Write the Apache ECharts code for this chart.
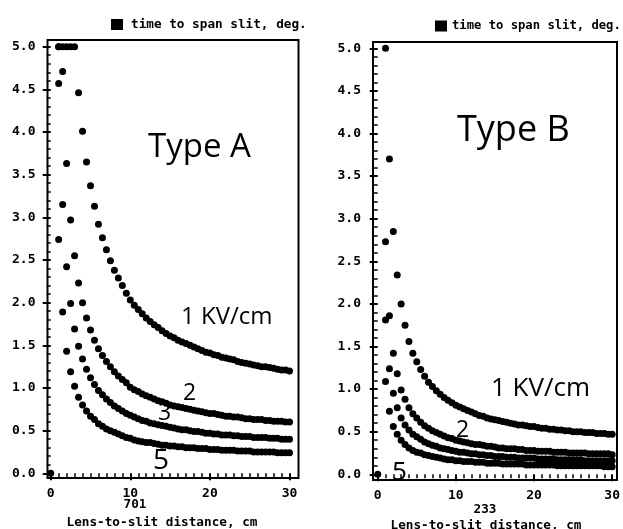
<!DOCTYPE html>
<html>
<head>
<meta charset="utf-8">
<script src="https://cdn.jsdelivr.net/npm/echarts@6/dist/echarts.min.js"></script>
<style>
  html, body { margin: 0; padding: 0; background: #fff; }
  #chart { width: 623px; height: 529px; }
</style>
</head>
<body>
<div id="chart"></div>
<script>
// lens-to-slit distance, cm (same for every curve)
const xDist = [1,1.5,2,2.5,3,3.5,4,4.5,5,5.5,6,6.5,7,7.5,8,8.5,9,9.5,10,
  10.5,11,11.5,12,12.5,13,13.5,14,14.5,15,15.5,16,16.5,17,17.5,18,18.5,19,19.5,20,
  20.5,21,21.5,22,22.5,23,23.5,24,24.5,25,25.5,26,26.5,27,27.5,28,28.5,29,29.5,30];
const origin = [0, 0];

// Type A, time to span slit (deg.), values above 5 sit on the 5.0 edge
const typeA_1kv = [5.0,5.0,5.0,5.0,5.0,4.46,4.01,3.65,3.37,3.13,2.92,2.76,2.62,2.49,2.38,2.29,2.20,2.11,2.03,
  1.97,1.92,1.87,1.82,1.78,1.74,1.71,1.67,1.64,1.61,1.59,1.56,1.54,1.52,1.50,1.48,1.46,1.44,1.42,1.41,
  1.39,1.38,1.36,1.35,1.34,1.33,1.31,1.30,1.29,1.28,1.27,1.26,1.25,1.25,1.24,1.23,1.22,1.21,1.21,1.20];
const typeA_2kv = [5.0,4.71,3.63,2.97,2.55,2.23,2.00,1.82,1.68,1.56,1.46,1.38,1.31,1.25,1.19,1.14,1.10,1.06,1.01,
  0.98,0.96,0.93,0.91,0.89,0.87,0.85,0.84,0.82,0.80,0.79,0.78,0.77,0.76,0.75,0.74,0.73,0.72,0.71,0.70,
  0.70,0.69,0.68,0.67,0.67,0.66,0.66,0.65,0.64,0.64,0.63,0.63,0.63,0.62,0.62,0.61,0.61,0.61,0.60,0.60];
const typeA_3kv = [4.57,3.15,2.42,1.99,1.69,1.49,1.34,1.22,1.12,1.04,0.97,0.92,0.87,0.83,0.79,0.76,0.73,0.70,0.68,
  0.66,0.64,0.62,0.61,0.59,0.58,0.57,0.56,0.55,0.54,0.53,0.52,0.51,0.51,0.50,0.49,0.49,0.48,0.47,0.47,
  0.46,0.46,0.45,0.45,0.45,0.44,0.44,0.43,0.43,0.43,0.42,0.42,0.42,0.42,0.41,0.41,0.41,0.40,0.40,0.40];
const typeA_5kv = [2.74,1.89,1.43,1.19,1.02,0.89,0.80,0.73,0.67,0.63,0.58,0.55,0.52,0.50,0.48,0.46,0.44,0.42,0.41,
  0.39,0.38,0.37,0.36,0.36,0.35,0.34,0.33,0.33,0.32,0.32,0.31,0.31,0.30,0.30,0.30,0.29,0.29,0.29,0.28,
  0.28,0.28,0.27,0.27,0.27,0.27,0.26,0.26,0.26,0.26,0.25,0.25,0.25,0.25,0.25,0.25,0.24,0.24,0.24,0.24];

// Type B
const typeB_1kv = [5.0,3.70,2.85,2.34,2.00,1.75,1.56,1.42,1.32,1.23,1.15,1.08,1.03,0.98,0.94,0.90,0.87,0.84,0.81,
  0.79,0.77,0.75,0.73,0.71,0.69,0.68,0.66,0.65,0.64,0.63,0.62,0.61,0.60,0.59,0.58,0.58,0.57,0.56,0.56,
  0.55,0.54,0.54,0.53,0.53,0.52,0.52,0.51,0.51,0.50,0.50,0.50,0.49,0.49,0.49,0.48,0.48,0.48,0.47,0.47];
const typeB_2kv = [2.73,1.86,1.42,1.18,0.99,0.88,0.78,0.71,0.66,0.61,0.57,0.54,0.51,0.49,0.47,0.45,0.43,0.42,0.40,
  0.39,0.38,0.37,0.36,0.35,0.35,0.34,0.33,0.33,0.32,0.31,0.31,0.30,0.30,0.30,0.29,0.29,0.28,0.28,0.28,
  0.27,0.27,0.27,0.27,0.26,0.26,0.26,0.26,0.25,0.25,0.25,0.25,0.25,0.24,0.24,0.24,0.24,0.24,0.24,0.23];
const typeB_3kv = [1.81,1.24,0.95,0.78,0.66,0.58,0.52,0.47,0.44,0.41,0.38,0.36,0.34,0.33,0.31,0.30,0.29,0.28,0.27,
  0.26,0.26,0.25,0.24,0.24,0.23,0.23,0.22,0.22,0.21,0.21,0.21,0.20,0.20,0.20,0.19,0.19,0.19,0.19,0.19,
  0.18,0.18,0.18,0.18,0.18,0.17,0.17,0.17,0.17,0.17,0.17,0.17,0.16,0.16,0.16,0.16,0.16,0.16,0.16,0.16];
const typeB_5kv = [1.09,0.74,0.56,0.47,0.40,0.35,0.31,0.28,0.26,0.25,0.23,0.22,0.21,0.20,0.19,0.18,0.17,0.17,0.16,
  0.16,0.15,0.15,0.15,0.14,0.14,0.14,0.13,0.13,0.13,0.13,0.12,0.12,0.12,0.12,0.12,0.12,0.11,0.11,0.11,
  0.11,0.11,0.11,0.11,0.11,0.10,0.10,0.10,0.10,0.10,0.10,0.10,0.10,0.10,0.10,0.10,0.10,0.09,0.09,0.09];

// axis ranges / steps
const xRange = [0, 30];
const xStep = 10;
const yRange = [0, 5];
const yStep = 0.5;

const seriesName = 'time to span slit, deg.';
const monoFont = 'DejaVu Sans Mono';
const handFont = 'Open Sans';

function toPoints(curves) {
  const pts = [origin];
  curves.forEach(c => {
    c.forEach((v, i) => pts.push([xDist[i], v]));
  });
  return pts;
}

const chart = echarts.init(document.getElementById('chart'));

const labelStyle = {color: '#000', fontFamily: monoFont, fontWeight: 'bold', fontSize: 13};

function plotX(gridIndex, offset) {
  return {
    gridIndex, type: 'value', min: xRange[0], max: xRange[1], interval: xStep,
    position: 'bottom', offset,
    axisLine: {show: false},
    axisTick: {show: true, length: 7, lineStyle: {color: '#000', width: 2}},
    minorTick: {show: true, splitNumber: 10, length: 4, lineStyle: {color: '#000', width: 1.5}},
    axisLabel: {...labelStyle, margin: 9},
    splitLine: {show: false}
  };
}

function plotY(gridIndex, offset) {
  return {
    gridIndex, type: 'value', min: yRange[0], max: yRange[1], interval: yStep,
    position: 'left', offset,
    axisLine: {show: false},
    axisTick: {show: true, length: 8, lineStyle: {color: '#000', width: 2}},
    minorTick: {show: true, splitNumber: 5, length: 4, lineStyle: {color: '#000', width: 1.5}},
    axisLabel: {...labelStyle, margin: 12, formatter: v => v.toFixed(1)},
    splitLine: {show: false}
  };
}

function frameAxis(gridIndex) {
  return {gridIndex, type: 'value', show: false};
}

function handText(x, y, text, size) {
  return {
    type: 'text', left: x, top: y, silent: true,
    style: {text, fill: '#000', font: `normal ${size}px "${handFont}"`}
  };
}

function plainText(cx, y, text) {
  return {
    type: 'text', x: cx, y, silent: true,
    style: {text, fill: '#000', font: `bold 12.7px "${monoFont}"`, textAlign: 'center', textVerticalAlign: 'middle'}
  };
}

const option = {
  backgroundColor: '#fff',
  animation: false,
  legend: [
    {
      data: [seriesName], left: 106, top: 13, icon: 'rect', itemWidth: 12, itemHeight: 11,
      selectedMode: false,
      textStyle: {color: '#000', fontFamily: monoFont, fontWeight: 'bold', fontSize: 12.7, padding: [0, 0, 0, 3]}
    },
    {
      data: [seriesName], left: 430, top: 15, icon: 'rect', itemWidth: 12, itemHeight: 11,
      selectedMode: false,
      textStyle: {color: '#000', fontFamily: monoFont, fontWeight: 'bold', fontSize: 12.2}
    }
  ],
  grid: [
    // plotting areas (0..30 x 0..5)
    {left: 50.7, top: 46.7, width: 238.8, height: 426.6},
    {left: 377.7, top: 48.3, width: 234.6, height: 426},
    // frames
    {left: 47.5, top: 40, width: 251, height: 438, show: true, borderColor: '#000', borderWidth: 2, backgroundColor: 'transparent'},
    {left: 373, top: 42, width: 244, height: 438, show: true, borderColor: '#000', borderWidth: 2, backgroundColor: 'transparent'}
  ],
  xAxis: [plotX(0, 4.7), plotX(1, 5.7), frameAxis(2), frameAxis(3)],
  yAxis: [plotY(0, 3.2), plotY(1, 4.7), frameAxis(2), frameAxis(3)],
  series: [
    {
      name: seriesName, type: 'scatter', xAxisIndex: 0, yAxisIndex: 0, clip: false,
      symbolSize: 7, itemStyle: {color: '#000', opacity: 1},
      data: toPoints([typeA_1kv, typeA_2kv, typeA_3kv, typeA_5kv])
    },
    {
      name: seriesName, type: 'scatter', xAxisIndex: 1, yAxisIndex: 1, clip: false,
      symbolSize: 7, itemStyle: {color: '#000', opacity: 1},
      data: toPoints([typeB_1kv, typeB_2kv, typeB_3kv, typeB_5kv])
    }
  ],
  graphic: [
    handText(148, 131, 'Type A', 33),
    handText(181, 305, '1 KV/cm', 24),
    handText(183, 382, '2', 23),
    handText(158, 402, '3', 23),
    handText(153, 447, '5', 28),
    handText(457, 113, 'Type B', 36),
    handText(491, 376, '1 KV/cm', 26),
    handText(456, 419, '2', 23),
    handText(392, 460, '5', 26),
    plainText(135, 505, '701'),
    plainText(162, 523, 'Lens-to-slit distance, cm'),
    plainText(485, 510, '233'),
    plainText(486, 526, 'Lens-to-slit distance, cm')
  ]
};

chart.setOption(option);
</script>
</body>
</html>
